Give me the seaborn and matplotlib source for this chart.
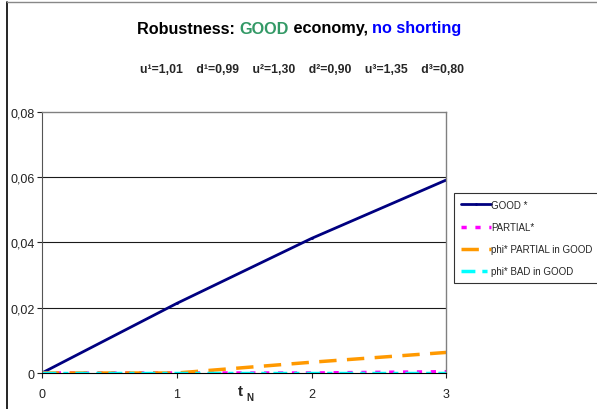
import numpy as np
import pandas as pd
import matplotlib
matplotlib.use("Agg")
import matplotlib.pyplot as plt
from matplotlib.lines import Line2D
from matplotlib.ticker import FuncFormatter
import seaborn as sns

# data
t_n = [0, 1, 2, 3]
good_star = [0.0, 0.0213, 0.0412, 0.0591]
partial_star = [0.0, 0.0, 0.0, 0.0004]
phi_partial_in_good = [0.0, 0.0, 0.0033, 0.0063]
phi_bad_in_good = [0.0, 0.0, 0.0, 0.0]

series_names = ["GOOD *", "PARTIAL*", "phi* PARTIAL in GOOD", "phi* BAD in GOOD"]
series_values = [good_star, partial_star, phi_partial_in_good, phi_bad_in_good]
y_ticks = [0, 0.02, 0.04, 0.06, 0.08]

sns.set_style("white")
plt.rcParams["font.family"] = ["Liberation Sans", "DejaVu Sans"]

fig = plt.figure(figsize=(5.97, 4.10), dpi=100)
ax = fig.add_axes([0.0702, 0.0878, 0.6774, 0.6373])

styles = {
    "GOOD *": dict(color="#000080", linestyle="-", linewidth=2.0,
                   marker="o", markersize=2, markeredgewidth=0),
    "PARTIAL*": dict(color="#ff00ff", linestyle=(0, (1.5, 2.5)), linewidth=2.5),
    "phi* PARTIAL in GOOD": dict(color="#ff9900", linestyle=(0, (5, 3)), linewidth=2.5),
    "phi* BAD in GOOD": dict(color="#00ffff", linestyle=(0, (4, 2, 1.5, 2)), linewidth=2.5),
}

for name, vals in zip(series_names, series_values):
    df = pd.DataFrame({"t": t_n, "v": vals})
    sns.lineplot(data=df, x="t", y="v", ax=ax, label=name, **styles[name])

ax.set_xlim(0, 3)
ax.set_ylim(0, 0.08)
ax.set_xticks(t_n)
ax.set_yticks(y_ticks)
ax.yaxis.set_major_formatter(
    FuncFormatter(lambda v, p: "0" if v == 0 else f"{v:.2f}".replace(".", ",")))
ax.set_xlabel("")
ax.set_ylabel("")
ax.tick_params(axis="both", labelsize=9, length=3.6, width=0.8, direction="out",
               left=True, bottom=True, pad=1.5, colors="#222222")
ax.tick_params(axis="x", pad=7)

for yv in y_ticks[1:4]:
    ax.axhline(yv, color="#1a1a1a", linewidth=0.8, zorder=0)

for side in ["top", "right"]:
    ax.spines[side].set_color("#808080")
    ax.spines[side].set_linewidth(1.0)
ax.spines["left"].set_color("#555555")
ax.spines["bottom"].set_color("#000000")

# legend
ax.get_legend().remove()
handles, labels = ax.get_legend_handles_labels()
leg = fig.legend(handles, labels, loc="upper left",
                 bbox_to_anchor=(454 / 597, 1 - 194 / 410),
                 borderaxespad=0, fontsize=7, handlelength=3.1,
                 handletextpad=0.05, labelspacing=1.25, borderpad=0.7,
                 fancybox=False, frameon=True)
leg.get_frame().set_edgecolor("black")
leg.get_frame().set_linewidth(0.8)

# title in coloured pieces
t1 = fig.text(137 / 597, 1 - 29 / 410, "Robustness: ", fontsize=11.7,
              fontweight="bold", color="black", va="center")
t2 = ax.annotate("GOOD", xy=(1, 0.5), xycoords=t1, va="center", ha="left",
                 fontsize=11.7, fontweight="bold", color="#339966",
                 annotation_clip=False)
t3 = ax.annotate(" economy, ", xy=(1, 0.5), xycoords=t2, va="center", ha="left",
                 fontsize=11.7, fontweight="bold", color="black",
                 annotation_clip=False)
ax.annotate("no shorting", xy=(1, 0.5), xycoords=t3, va="center", ha="left",
            fontsize=11.7, fontweight="bold", color="#0000ff",
            annotation_clip=False)

fig.text(302 / 597, 1 - 70 / 410,
         "u\u00b9=1,01    d\u00b9=0,99    u\u00b2=1,30    d\u00b2=0,90    u\u00b3=1,35    d\u00b3=0,80",
         fontsize=8.8, fontweight="bold", ha="center", va="center")

# x label t_N
xl = fig.text(238 / 597, 1 - 392 / 410, "t", fontsize=11, fontweight="bold",
              va="center", ha="left")
ax.annotate("N", xy=(1.6, 0.05), xycoords=xl, fontsize=7, fontweight="bold",
            va="center", ha="left", annotation_clip=False)

# outer frame (left and top edges)
fig.add_artist(Line2D([7 / 597, 7 / 597], [0, 1 - 3 / 410], color="black",
                      linewidth=1.2, transform=fig.transFigure))
fig.add_artist(Line2D([7 / 597, 1], [1 - 3 / 410, 1 - 3 / 410], color="#888888",
                      linewidth=1.0, transform=fig.transFigure))

fig.savefig("out.png", dpi=100)
